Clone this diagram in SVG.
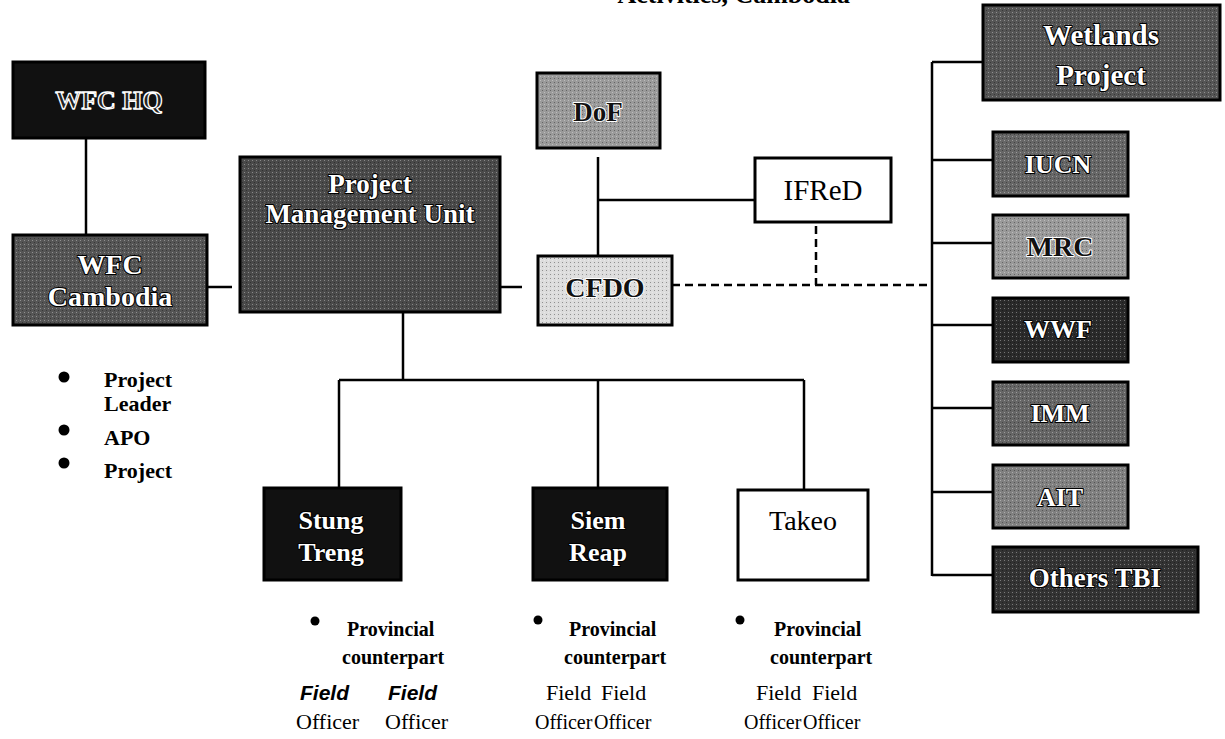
<svg xmlns="http://www.w3.org/2000/svg" width="1225" height="739" viewBox="0 0 1225 739">
<defs>
<pattern id="dots" width="4" height="4" patternUnits="userSpaceOnUse">
<rect x="0" y="0" width="1" height="1" fill="#fff" opacity="0.35"/>
<rect x="2" y="2" width="1" height="1" fill="#000" opacity="0.35"/>
</pattern>
</defs>
<style>
.box{stroke:#000;stroke-width:3}
.tex{fill:url(#dots);stroke:none}
.lbl{font-family:"Liberation Serif",serif;font-weight:bold;text-anchor:middle;fill:#fff;stroke:#000;stroke-width:2.2;paint-order:stroke;stroke-linejoin:round}
.hol{font-family:"Liberation Serif",serif;font-weight:bold;text-anchor:middle;fill:#222;stroke:#fff;stroke-width:1.3;stroke-linejoin:round}
.lbld{font-family:"Liberation Serif",serif;font-weight:bold;text-anchor:middle;fill:#111;stroke:#fff;stroke-width:2;paint-order:stroke;stroke-linejoin:round}
.plain{font-family:"Liberation Serif",serif;text-anchor:middle;fill:#000}
.conn line,.conn path{stroke:#000;stroke-width:2.5;fill:none}
.conn .dash{stroke-dasharray:8 5}
.note{font-family:"Liberation Serif",serif;font-weight:bold;font-size:20px;fill:#000}
.lnote{font-family:"Liberation Serif",serif;font-weight:bold;font-size:22px;fill:#000}
.off{font-family:"Liberation Serif",serif;font-size:22px;fill:#000}
.offs{font-family:"Liberation Serif",serif;font-size:20px;fill:#000}
.fi{font-family:"Liberation Sans",sans-serif;font-weight:bold;font-style:italic;font-size:21px;fill:#000}
</style>
<text x="850" y="3" font-family="Liberation Serif,serif" font-weight="bold" font-size="26" text-anchor="end" fill="#000">Activities, Cambodia</text>
<g class="conn">
<line x1="86" y1="138" x2="86" y2="235"/>
<line x1="207" y1="287" x2="232" y2="287"/>
<line x1="500" y1="287" x2="522" y2="287"/>
<line x1="598" y1="157" x2="598" y2="256"/>
<line x1="598" y1="200" x2="755" y2="200"/>
<line class="dash" x1="816" y1="226" x2="816" y2="285"/>
<line class="dash" x1="672" y1="285" x2="932" y2="285"/>
<line x1="932" y1="62" x2="932" y2="576"/>
<line x1="932" y1="62" x2="983" y2="62"/>
<line x1="932" y1="160" x2="993" y2="160"/>
<line x1="932" y1="243" x2="993" y2="243"/>
<line x1="932" y1="325" x2="993" y2="325"/>
<line x1="932" y1="408" x2="993" y2="408"/>
<line x1="932" y1="492" x2="993" y2="492"/>
<line x1="932" y1="575" x2="993" y2="575"/>
<line x1="403" y1="312" x2="403" y2="380"/>
<line x1="339" y1="380" x2="804" y2="380"/>
<line x1="339" y1="380" x2="339" y2="488"/>
<line x1="598" y1="380" x2="598" y2="488"/>
<line x1="804" y1="380" x2="804" y2="490"/>
</g>
<g id="wfc-hq"><rect class="box" x="13" y="62" width="192" height="76" fill="#111"/><text class="hol" x="109" y="109" font-size="26">WFC HQ</text></g>
<g id="wfc-cambodia"><rect class="box" x="13" y="235" width="194" height="90" fill="#555"/><rect class="tex" x="15" y="237" width="190" height="86"/><text class="lbl" x="110" y="274" font-size="28">WFC</text><text class="lbl" x="110" y="306" font-size="28">Cambodia</text></g>
<g id="pmu"><rect class="box" x="240" y="157" width="260" height="155" fill="#4a4a4a"/><rect class="tex" x="242" y="159" width="256" height="151"/><text class="lbl" x="370" y="193" font-size="27">Project</text><text class="lbl" x="370" y="223" font-size="27">Management Unit</text></g>
<g id="dof"><rect class="box" x="537" y="73" width="123" height="75" fill="#9a9a9a"/><rect class="tex" x="539" y="75" width="119" height="71"/><text class="lbld" x="598" y="121" font-size="27">DoF</text></g>
<g id="ifred"><rect class="box" x="755" y="158" width="136" height="64" fill="#fff"/><text class="plain" x="823" y="200" font-size="29">IFReD</text></g>
<g id="cfdo"><rect class="box" x="538" y="256" width="134" height="69" fill="#ddd"/><rect class="tex" x="540" y="258" width="130" height="65"/><text class="lbld" x="605" y="297" font-size="28">CFDO</text></g>
<g id="wetlands"><rect class="box" x="983" y="5" width="237" height="95" fill="#555"/><rect class="tex" x="985" y="7" width="233" height="91"/><text class="lbl" x="1101" y="45" font-size="29">Wetlands</text><text class="lbl" x="1101" y="85" font-size="29">Project</text></g>
<g id="iucn"><rect class="box" x="993" y="132" width="135" height="64" fill="#666"/><rect class="tex" x="995" y="134" width="131" height="60"/><text class="lbl" x="1058" y="173" font-size="26">IUCN</text></g>
<g id="mrc"><rect class="box" x="993" y="215" width="135" height="63" fill="#999"/><rect class="tex" x="995" y="217" width="131" height="59"/><text class="lbld" x="1060" y="256" font-size="28">MRC</text></g>
<g id="wwf"><rect class="box" x="993" y="298" width="135" height="64" fill="#2a2a2a"/><rect class="tex" x="995" y="300" width="131" height="60"/><text class="lbl" x="1058" y="338" font-size="26">WWF</text></g>
<g id="imm"><rect class="box" x="993" y="382" width="135" height="63" fill="#666"/><rect class="tex" x="995" y="384" width="131" height="59"/><text class="lbl" x="1060" y="422" font-size="26">IMM</text></g>
<g id="ait"><rect class="box" x="993" y="465" width="135" height="63" fill="#808080"/><rect class="tex" x="995" y="467" width="131" height="59"/><text class="lbl" x="1060" y="506" font-size="26">AIT</text></g>
<g id="others"><rect class="box" x="993" y="547" width="205" height="65" fill="#333"/><rect class="tex" x="995" y="549" width="201" height="61"/><text class="lbl" x="1095" y="587" font-size="27">Others TBI</text></g>
<g id="stung-treng"><rect class="box" x="264" y="488" width="137" height="92" fill="#111"/><text class="lbl" x="331" y="529" font-size="26" stroke-width="1">Stung</text><text class="lbl" x="331" y="561" font-size="26" stroke-width="1">Treng</text></g>
<g id="siem-reap"><rect class="box" x="533" y="488" width="134" height="92" fill="#111"/><text class="lbl" x="598" y="529" font-size="26" stroke-width="1">Siem</text><text class="lbl" x="598" y="561" font-size="26" stroke-width="1">Reap</text></g>
<g id="takeo"><rect class="box" x="738" y="490" width="130" height="90" fill="#fff"/><text class="plain" x="803" y="530" font-size="28">Takeo</text></g>
<g id="wfc-staff">
<circle cx="64" cy="377" r="5.5"/><text class="lnote" x="104" y="387">Project</text><text class="lnote" x="104" y="411">Leader</text>
<circle cx="64" cy="430" r="5.5"/><text class="lnote" x="104" y="445">APO</text>
<circle cx="64" cy="463" r="5.5"/><text class="lnote" x="104" y="478">Project</text>
</g>
<g id="stung-staff">
<circle cx="315" cy="621" r="4.5"/><text class="note" x="347" y="636">Provincial</text><text class="note" x="342" y="664">counterpart</text>
<text class="fi" x="300" y="700">Field</text><text class="fi" x="388" y="700">Field</text>
<text class="off" x="296" y="729">Officer</text><text class="off" x="385" y="729">Officer</text>
</g>
<g id="siem-staff">
<circle cx="538" cy="620" r="4.5"/><text class="note" x="569" y="636">Provincial</text><text class="note" x="564" y="664">counterpart</text>
<text class="off" x="546" y="700">Field</text><text class="off" x="601" y="700">Field</text>
<text class="offs" x="535" y="729">Officer</text><text class="offs" x="594" y="729">Officer</text>
</g>
<g id="takeo-staff">
<circle cx="740" cy="620" r="4.5"/><text class="note" x="774" y="636">Provincial</text><text class="note" x="770" y="664">counterpart</text>
<text class="off" x="756" y="700">Field</text><text class="off" x="812" y="700">Field</text>
<text class="offs" x="744" y="729">Officer</text><text class="offs" x="803" y="729">Officer</text>
</g>
</svg>
